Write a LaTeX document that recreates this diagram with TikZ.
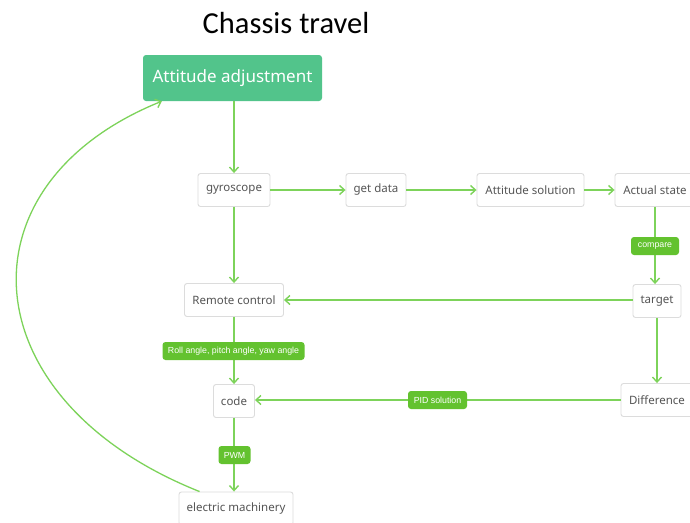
\documentclass[tikz,border=0pt]{standalone}
\usepackage{fontspec}
\setmainfont{Noto Sans}
\newfontfamily\titlefont{Carlito}
\newfontfamily\tagfont{Liberation Sans}
\usetikzlibrary{arrows.meta,calc}
\definecolor{linkgreen}{HTML}{7DD35A}
\definecolor{tagfill}{HTML}{63C22F}
\definecolor{rootfill}{HTML}{52C48B}
\definecolor{boxedge}{HTML}{DCDCDC}
\definecolor{boxtext}{HTML}{555555}
\tikzset{
  topic/.style={draw=boxedge, line width=0.9pt, fill=white, rounded corners=2.5pt,
    minimum height=33pt, inner sep=0pt, text=boxtext,
    font=\fontsize{11.5pt}{13pt}\selectfont},
  root/.style={fill=rootfill, rounded corners=3pt, minimum width=179pt,
    minimum height=46pt, inner sep=0pt, text=white,
    font=\fontsize{17pt}{20pt}\selectfont},
  tag/.style={fill=tagfill, rounded corners=3pt, minimum height=18pt,
    inner sep=0pt, text=white, font=\tagfont\fontsize{8.8pt}{10pt}\selectfont},
  link/.style={draw=linkgreen, line width=1.5pt,
    -{Straight Barb[length=5pt,width=9pt,line width=1.4pt]}},
}
\begin{document}
\begin{tikzpicture}[x=1pt,y=-1pt]
\useasboundingbox (0,0) rectangle (690,522);
\fill[white] (0,0) rectangle (690,522);

% heading
\node[anchor=base, inner sep=0pt] (title) at (286,33)
  {\titlefont\fontsize{30.5pt}{34pt}\selectfont Chassis travel};

% topics
\node[root] (att) at (232.5,78) {Attitude adjustment};
\node[topic, minimum width=72pt]  (gyro) at (234,190)   {gyroscope};
\node[topic, minimum width=60pt]  (get)  at (376,190) {get data};
\node[topic, minimum width=107pt] (sol)  at (530.5,190) {Attitude solution};
\node[topic, minimum width=80pt]  (act)  at (655,190) {Actual state};
\node[topic, minimum width=48pt]  (tgt)  at (657,301)   {target};
\node[topic, minimum width=99pt]  (rc)   at (234,300) {Remote control};
\node[topic, minimum width=41pt]  (code) at (234,401) {code};
\node[topic, minimum width=72pt]  (diff) at (657,400) {Difference};
\node[topic, minimum width=114pt] (em)   at (236,508.5) {electric machinery};

% connectors
\draw[link] (gyro.north |- att.south) -- (gyro.north);
\draw[link] (gyro.east) -- (get.west |- gyro.east);
\draw[link] (get.east) -- (sol.west |- get.east);
\draw[link] (sol.east) -- (act.west |- sol.east);
\draw[link] (act.south) -- (act.south |- tgt.north);
\draw[link] (tgt.west |- rc.east) -- (rc.east);
\draw[link] (gyro.south) -- (gyro.south |- rc.north);
\draw[link] (rc.south) -- (rc.south |- code.north);
\draw[link] (tgt.south) -- (tgt.south |- diff.north);
\draw[link] (diff.west) -- (code.east |- diff.west);
\draw[link] (code.south) -- (code.south |- em.north);
\draw[link, line width=1.3pt]
  ($(em.north west)+(21,0)$) .. controls (-30,400) and (-45,185) .. ($(att.south west)+(19,0)$);

% connector labels
\node[tag, minimum width=48pt]  (cmp)  at (655,246)   {compare};
\node[tag, minimum width=142pt] (ang)  at (233.5,351) {Roll angle, pitch angle, yaw angle};
\node[tag, minimum width=59pt]  (pid)  at (437.5,400) {PID solution};
\node[tag, minimum width=32pt]  (pwm)  at (234.5,455) {PWM};
\end{tikzpicture}
\end{document}
